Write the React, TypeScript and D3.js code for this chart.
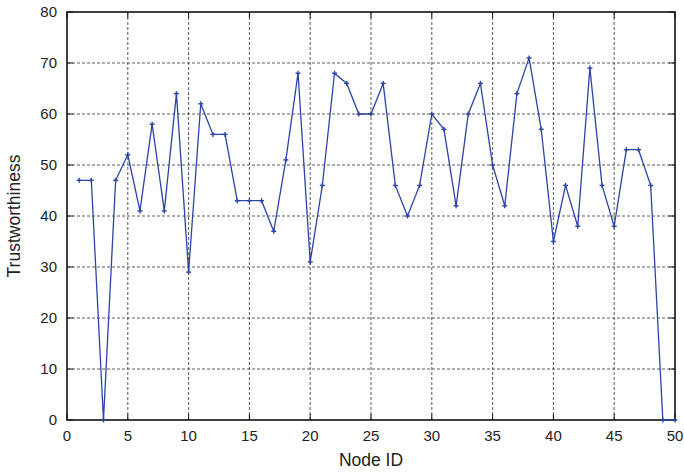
import React from "react";
import * as d3 from "d3";

const nodeIds: number[] = Array.from({ length: 50 }, (_, i) => i + 1);
const trust: number[] = [
  47, 47, 0, 47, 52, 41, 58, 41, 64, 29,
  62, 56, 56, 43, 43, 43, 37, 51, 68, 31,
  46, 68, 66, 60, 60, 66, 46, 40, 46, 60,
  57, 42, 60, 66, 50, 42, 64, 71, 57, 35,
  46, 38, 69, 46, 38, 53, 53, 46, 0, 0,
];
const xTicks: number[] = [0, 5, 10, 15, 20, 25, 30, 35, 40, 45, 50];
const yTicks: number[] = [0, 10, 20, 30, 40, 50, 60, 70, 80];

const W = 684;
const H = 475;
const M = { left: 67, right: 9, top: 12, bottom: 55 };
const FONT = "'Liberation Sans', Arial, Helvetica, sans-serif";
const LINE = "#2c44a6";

export default function App() {
  const x = d3.scaleLinear().domain([0, 50]).range([M.left, W - M.right]);
  const y = d3.scaleLinear().domain([0, 80]).range([H - M.bottom, M.top]);
  const line = d3
    .line<number>()
    .x((_, i) => x(nodeIds[i]))
    .y((d) => y(d));
  const x0 = x(0), x1 = x(50), y0 = y(0), y1 = y(80);
  const tk = 6;

  return (
    <svg
      width={W}
      height={H}
      style={{ position: "absolute", left: 0, top: 0, background: "#fff" }}
      fontFamily={FONT}
    >
      {/* grid */}
      <g stroke="#333" strokeWidth={0.8} strokeDasharray="3,2">
        {xTicks.slice(1, -1).map((t) => (
          <line key={"gx" + t} x1={x(t)} x2={x(t)} y1={y0} y2={y1} />
        ))}
        {yTicks.slice(1, -1).map((t) => (
          <line key={"gy" + t} x1={x0} x2={x1} y1={y(t)} y2={y(t)} />
        ))}
      </g>
      {/* inward ticks on all four sides */}
      <g stroke="#111" strokeWidth={1}>
        {xTicks.map((t) => (
          <g key={"tx" + t}>
            <line x1={x(t)} x2={x(t)} y1={y0} y2={y0 - tk} />
            <line x1={x(t)} x2={x(t)} y1={y1} y2={y1 + tk} />
          </g>
        ))}
        {yTicks.map((t) => (
          <g key={"ty" + t}>
            <line x1={x0} x2={x0 + tk} y1={y(t)} y2={y(t)} />
            <line x1={x1} x2={x1 - tk} y1={y(t)} y2={y(t)} />
          </g>
        ))}
      </g>
      {/* frame */}
      <rect x={x0} y={y1} width={x1 - x0} height={y0 - y1} fill="none" stroke="#111" strokeWidth={1.6} />
      {/* series */}
      <path d={line(trust) || ""} fill="none" stroke={LINE} strokeWidth={1.3} />
      <g stroke={LINE} strokeWidth={1.4}>
        {trust.map((v, i) => (
          <g key={"m" + i}>
            <line x1={x(nodeIds[i]) - 2.5} x2={x(nodeIds[i]) + 2.5} y1={y(v)} y2={y(v)} />
            <line x1={x(nodeIds[i])} x2={x(nodeIds[i])} y1={y(v) - 2.5} y2={y(v) + 2.5} />
          </g>
        ))}
      </g>
      {/* tick labels */}
      <g fontSize={15} fill="#222">
        {xTicks.map((t) => (
          <text key={"lx" + t} x={x(t)} y={y0 + 21} textAnchor="middle">
            {t}
          </text>
        ))}
        {yTicks.map((t) => (
          <text key={"ly" + t} x={x0 - 10} y={y(t) + 5} textAnchor="end">
            {t}
          </text>
        ))}
      </g>
      <text x={(x0 + x1) / 2} y={H - 9} fontSize={17.5} textAnchor="middle" fill="#222">
        Node ID
      </text>
      <text
        transform={`translate(20,${(y0 + y1) / 2}) rotate(-90)`}
        fontSize={17.5}
        textAnchor="middle"
        fill="#222"
      >
        Trustworthiness
      </text>
    </svg>
  );
}
